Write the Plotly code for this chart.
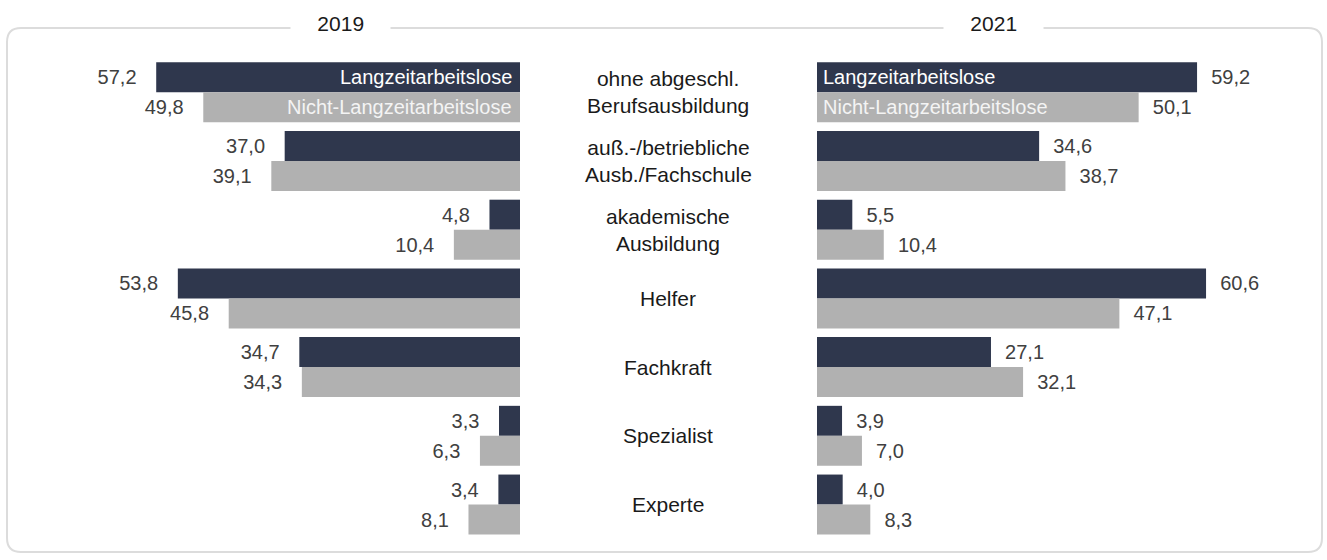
import plotly.graph_objects as go

# Data
categories = [
    "ohne abgeschl.<br>Berufsausbildung",
    "auß.-/betriebliche<br>Ausb./Fachschule",
    "akademische<br>Ausbildung",
    "Helfer",
    "Fachkraft",
    "Spezialist",
    "Experte",
]
years = ["2019", "2021"]
series_names = ["Langzeitarbeitslose", "Nicht-Langzeitarbeitslose"]
lza_2019 = [57.2, 37.0, 4.8, 53.8, 34.7, 3.3, 3.4]
nlza_2019 = [49.8, 39.1, 10.4, 45.8, 34.3, 6.3, 8.1]
lza_2021 = [59.2, 34.6, 5.5, 60.6, 27.1, 3.9, 4.0]
nlza_2021 = [50.1, 38.7, 10.4, 47.1, 32.1, 7.0, 8.3]

W, H = 1327, 560
FONT = "Liberation Sans, Arial, sans-serif"
DARK = "#2f374d"
GRAY = "#b1b1b1"
TXT = "#404040"


def px(x):
    return x / W


def py(y):
    return 1 - y / H


def fmt(v):
    return f"{v:.1f}".replace(".", ",")


fig = go.Figure()

for vals, color, xa, ya, left in [
    (lza_2019, DARK, "x", "y", True),
    (nlza_2019, GRAY, "x", "y", True),
    (lza_2021, DARK, "x2", "y2", False),
    (nlza_2021, GRAY, "x2", "y2", False),
]:
    labels = [fmt(v) + "\u00a0" * 3 if left else "\u00a0" * 2 + fmt(v) for v in vals]
    fig.add_trace(
        go.Bar(
            x=vals,
            y=categories,
            orientation="h",
            xaxis=xa,
            yaxis=ya,
            marker=dict(color=color, line=dict(width=0)),
            text=labels,
            textposition="outside",
            textfont=dict(family=FONT, size=20, color=TXT),
            constraintext="none",
            cliponaxis=False,
            showlegend=False,
            hoverinfo="skip",
        )
    )

ydom = [py(538.9), py(57.9)]
yrange = [len(categories) - 0.5, -0.5]

fig.update_layout(
    width=W,
    height=H,
    margin=dict(l=0, r=0, t=0, b=0),
    paper_bgcolor="white",
    plot_bgcolor="white",
    barmode="group",
    bargap=0.127,
    bargroupgap=0,
    font=dict(family=FONT),
    xaxis=dict(
        domain=[px(8), px(520)], range=[512 / 6.36, 0], visible=False, anchor="y"
    ),
    xaxis2=dict(
        domain=[px(817), px(1320)], range=[0, 503 / 6.42], visible=False, anchor="y2"
    ),
    yaxis=dict(domain=ydom, range=yrange, visible=False, anchor="x"),
    yaxis2=dict(domain=ydom, range=yrange, visible=False, anchor="x2"),
)

# vertical base line of the right panel
fig.add_shape(
    type="line",
    xref="x2",
    xsizemode="pixel",
    xanchor=0,
    x0=-2,
    x1=-2,
    yref="paper",
    y0=py(537),
    y1=py(59),
    line=dict(color="#d9d9d9", width=2),
)

# rounded frame
x0, x1, y0, y1, r = 7, 1322, 28, 552, 14
path = (
    f"M {px(x0 + r)},{py(y0)} L {px(x1 - r)},{py(y0)} "
    f"Q {px(x1)},{py(y0)} {px(x1)},{py(y0 + r)} "
    f"L {px(x1)},{py(y1 - r)} Q {px(x1)},{py(y1)} {px(x1 - r)},{py(y1)} "
    f"L {px(x0 + r)},{py(y1)} Q {px(x0)},{py(y1)} {px(x0)},{py(y1 - r)} "
    f"L {px(x0)},{py(y0 + r)} Q {px(x0)},{py(y0)} {px(x0 + r)},{py(y0)} Z"
)
fig.add_shape(
    type="path",
    xref="paper",
    yref="paper",
    path=path,
    line=dict(color="#dcdcdc", width=2),
    layer="below",
)

# year titles, white box breaks the frame line
for year, cx in zip(years, [341, 993]):
    fig.add_annotation(
        text="\u00a0" * 4 + year + "\u00a0" * 4,
        xref="paper",
        yref="paper",
        x=px(cx),
        y=py(24),
        xanchor="center",
        yanchor="middle",
        showarrow=False,
        font=dict(size=21, color="#1a1a1a"),
        bgcolor="white",
        borderpad=3,
    )

# category labels in the middle
for cat in categories:
    fig.add_annotation(
        text=cat,
        xref="paper",
        yref="y",
        x=px(668),
        y=cat,
        xanchor="center",
        yanchor="middle",
        showarrow=False,
        font=dict(size=21, color="#1a1a1a"),
        align="center",
    )

# series names inside the first pair of bars
for name, shift, col in [
    (series_names[0], 15, "white"),
    (series_names[1], -15, "#f4f4f4"),
]:
    fig.add_annotation(
        text=name, xref="x", yref="y", x=0, y=categories[0], yshift=shift,
        xanchor="right", xshift=-6, showarrow=False,
        font=dict(size=20, color=col),
    )
    fig.add_annotation(
        text=name, xref="x2", yref="y2", x=0, y=categories[0], yshift=shift,
        xanchor="left", xshift=4, showarrow=False,
        font=dict(size=20, color=col),
    )

fig.write_html(
    "out.html",
    config={"displayModeBar": False},
    post_script="document.body.style.margin='0px';",
)
